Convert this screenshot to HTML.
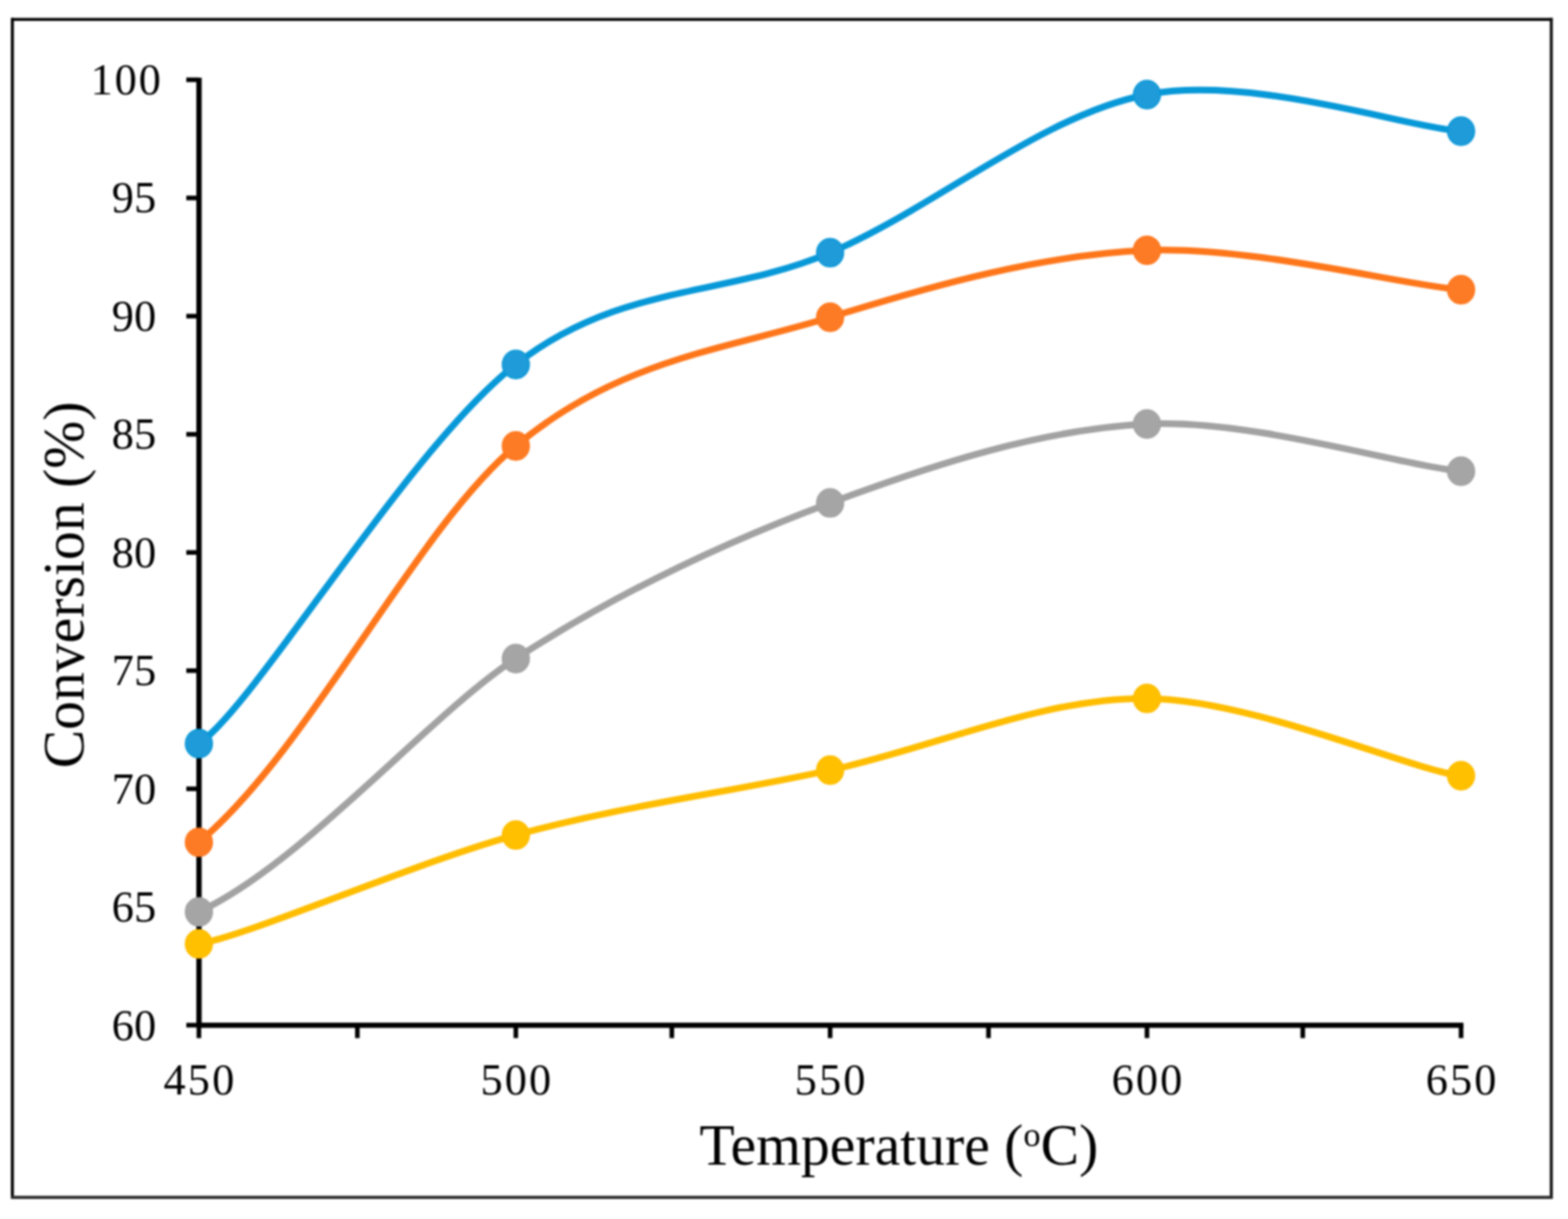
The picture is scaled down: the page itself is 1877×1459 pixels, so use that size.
<!DOCTYPE html><html><head><meta charset="utf-8"><title>Conversion vs Temperature</title><style>html,body{margin:0;padding:0;background:#fff;}svg{display:block;filter:blur(0.8px)}text{font-family:"Liberation Serif","Times New Roman",serif;fill:#000}</style></head><body>
<svg width="1877" height="1459" viewBox="0 0 1877 1459">
<rect x="0" y="0" width="1877" height="1459" fill="#fff"/>
<path d="M13.2,23.2 H1858.6" stroke="#000" stroke-width="3.6" fill="none"/>
<path d="M14.8,21.6 V1434.8" stroke="#000" stroke-width="3.6" fill="none"/>
<path d="M1857,21.6 V1434.8" stroke="#111" stroke-width="3.6" fill="none"/>
<path d="M13.2,1433.2 H1858.6" stroke="#2a2a2a" stroke-width="3.8" fill="none"/>
<line x1="238.2" y1="93" x2="238.2" y2="1230" stroke="#000" stroke-width="6.4"/>
<line x1="235.5" y1="1227.1" x2="1751.8" y2="1227.1" stroke="#000" stroke-width="6.4"/>
<line x1="223" y1="95.50" x2="238" y2="95.50" stroke="#000" stroke-width="5.5"/>
<line x1="223" y1="236.94" x2="238" y2="236.94" stroke="#000" stroke-width="5.5"/>
<line x1="223" y1="378.38" x2="238" y2="378.38" stroke="#000" stroke-width="5.5"/>
<line x1="223" y1="519.81" x2="238" y2="519.81" stroke="#000" stroke-width="5.5"/>
<line x1="223" y1="661.25" x2="238" y2="661.25" stroke="#000" stroke-width="5.5"/>
<line x1="223" y1="802.69" x2="238" y2="802.69" stroke="#000" stroke-width="5.5"/>
<line x1="223" y1="944.12" x2="238" y2="944.12" stroke="#000" stroke-width="5.5"/>
<line x1="223" y1="1085.56" x2="238" y2="1085.56" stroke="#000" stroke-width="5.5"/>
<line x1="223" y1="1227.00" x2="238" y2="1227.00" stroke="#000" stroke-width="5.5"/>
<line x1="238.10" y1="1227" x2="238.10" y2="1242.5" stroke="#000" stroke-width="5.5"/>
<line x1="427.80" y1="1227" x2="427.80" y2="1242.5" stroke="#000" stroke-width="5.5"/>
<line x1="617.50" y1="1227" x2="617.50" y2="1242.5" stroke="#000" stroke-width="5.5"/>
<line x1="804.20" y1="1227" x2="804.20" y2="1242.5" stroke="#000" stroke-width="5.5"/>
<line x1="993.70" y1="1227" x2="993.70" y2="1242.5" stroke="#000" stroke-width="5.5"/>
<line x1="1183.30" y1="1227" x2="1183.30" y2="1242.5" stroke="#000" stroke-width="5.5"/>
<line x1="1373.00" y1="1227" x2="1373.00" y2="1242.5" stroke="#000" stroke-width="5.5"/>
<line x1="1559.50" y1="1227" x2="1559.50" y2="1242.5" stroke="#000" stroke-width="5.5"/>
<line x1="1749.00" y1="1227" x2="1749.00" y2="1242.5" stroke="#000" stroke-width="5.5"/>
<text x="194.60" y="113.00" text-anchor="end" font-size="53.0" letter-spacing="2.2">100</text>
<text x="187.30" y="254.44" text-anchor="end" font-size="53.0" letter-spacing="0.3">95</text>
<text x="187.30" y="395.88" text-anchor="end" font-size="53.0" letter-spacing="0.3">90</text>
<text x="187.30" y="537.31" text-anchor="end" font-size="53.0" letter-spacing="0.3">85</text>
<text x="187.30" y="678.75" text-anchor="end" font-size="53.0" letter-spacing="0.3">80</text>
<text x="187.30" y="820.19" text-anchor="end" font-size="53.0" letter-spacing="0.3">75</text>
<text x="187.30" y="961.62" text-anchor="end" font-size="53.0" letter-spacing="0.3">70</text>
<text x="187.30" y="1103.06" text-anchor="end" font-size="53.0" letter-spacing="0.3">65</text>
<text x="187.30" y="1244.50" text-anchor="end" font-size="53.0" letter-spacing="0.3">60</text>
<text x="239.40" y="1309.5" text-anchor="middle" font-size="53.0" letter-spacing="2.6">450</text>
<text x="618.80" y="1309.5" text-anchor="middle" font-size="53.0" letter-spacing="2.6">500</text>
<text x="995.00" y="1309.5" text-anchor="middle" font-size="53.0" letter-spacing="2.6">550</text>
<text x="1374.30" y="1309.5" text-anchor="middle" font-size="53.0" letter-spacing="2.6">600</text>
<text x="1750.30" y="1309.5" text-anchor="middle" font-size="53.0" letter-spacing="2.6">650</text>
<text x="1076" y="1394" text-anchor="middle" font-size="69.0">Temperature (<tspan font-size="41.4" dy="-22">o</tspan><tspan dy="22">C)</tspan></text>
<text transform="translate(99.8,700) rotate(-90)" x="0" y="0" text-anchor="middle" font-size="69.0">Conversion (%)</text>
<path d="M238.10,890.00 C306.20,843.70 488.90,536.21 617.50,436.20 C743.43,338.27 867.78,356.23 993.70,302.40 C1119.62,248.57 1247.12,137.43 1373.00,113.20 C1498.88,88.97 1686.33,153.35 1749.00,157.00" fill="none" stroke="#0798d8" stroke-width="8.0" stroke-linecap="round" stroke-linejoin="round"/>
<path d="M238.10,1008.10 C371.00,896.60 497.89,633.16 617.50,533.70 C743.43,428.98 867.78,418.82 993.70,379.80 C1119.62,340.78 1247.12,305.12 1373.00,299.60 C1498.88,294.08 1686.33,342.77 1749.00,346.70" fill="none" stroke="#fe761a" stroke-width="8.0" stroke-linecap="round" stroke-linejoin="round"/>
<path d="M238.10,1091.40 C363.70,1032.50 515.72,854.14 617.50,788.20 C743.43,706.62 867.78,648.68 993.70,601.90 C1119.62,555.12 1247.12,513.82 1373.00,507.50 C1498.88,501.18 1686.33,559.29 1749.00,564.00" fill="none" stroke="#a2a2a2" stroke-width="8.0" stroke-linecap="round" stroke-linejoin="round"/>
<path d="M238.10,1129.70 C301.33,1118.84 491.57,1034.05 617.50,999.40 C743.43,964.75 867.78,949.05 993.70,921.80 C1119.62,894.55 1247.12,834.78 1373.00,835.90 C1498.88,837.02 1686.33,920.78 1749.00,928.50" fill="none" stroke="#ffbd00" stroke-width="8.0" stroke-linecap="round" stroke-linejoin="round"/>
<ellipse cx="238.10" cy="890.00" rx="16.10" ry="16.90" fill="#1f9bd9" stroke="#0798d8" stroke-width="1.6"/>
<ellipse cx="617.50" cy="436.20" rx="16.10" ry="16.90" fill="#1f9bd9" stroke="#0798d8" stroke-width="1.6"/>
<ellipse cx="993.70" cy="302.40" rx="16.10" ry="16.90" fill="#1f9bd9" stroke="#0798d8" stroke-width="1.6"/>
<ellipse cx="1373.00" cy="113.20" rx="16.10" ry="16.90" fill="#1f9bd9" stroke="#0798d8" stroke-width="1.6"/>
<ellipse cx="1749.00" cy="157.00" rx="16.10" ry="16.90" fill="#1f9bd9" stroke="#0798d8" stroke-width="1.6"/>
<ellipse cx="238.10" cy="1008.10" rx="16.10" ry="16.90" fill="#fe7b25" stroke="#fe761a" stroke-width="1.6"/>
<ellipse cx="617.50" cy="533.70" rx="16.10" ry="16.90" fill="#fe7b25" stroke="#fe761a" stroke-width="1.6"/>
<ellipse cx="993.70" cy="379.80" rx="16.10" ry="16.90" fill="#fe7b25" stroke="#fe761a" stroke-width="1.6"/>
<ellipse cx="1373.00" cy="299.60" rx="16.10" ry="16.90" fill="#fe7b25" stroke="#fe761a" stroke-width="1.6"/>
<ellipse cx="1749.00" cy="346.70" rx="16.10" ry="16.90" fill="#fe7b25" stroke="#fe761a" stroke-width="1.6"/>
<ellipse cx="238.10" cy="1091.40" rx="16.10" ry="16.90" fill="#a5a5a5" stroke="#a2a2a2" stroke-width="1.6"/>
<ellipse cx="617.50" cy="788.20" rx="16.10" ry="16.90" fill="#a5a5a5" stroke="#a2a2a2" stroke-width="1.6"/>
<ellipse cx="993.70" cy="601.90" rx="16.10" ry="16.90" fill="#a5a5a5" stroke="#a2a2a2" stroke-width="1.6"/>
<ellipse cx="1373.00" cy="507.50" rx="16.10" ry="16.90" fill="#a5a5a5" stroke="#a2a2a2" stroke-width="1.6"/>
<ellipse cx="1749.00" cy="564.00" rx="16.10" ry="16.90" fill="#a5a5a5" stroke="#a2a2a2" stroke-width="1.6"/>
<ellipse cx="238.10" cy="1129.70" rx="16.10" ry="16.90" fill="#ffc000" stroke="#ffbd00" stroke-width="1.6"/>
<ellipse cx="617.50" cy="999.40" rx="16.10" ry="16.90" fill="#ffc000" stroke="#ffbd00" stroke-width="1.6"/>
<ellipse cx="993.70" cy="921.80" rx="16.10" ry="16.90" fill="#ffc000" stroke="#ffbd00" stroke-width="1.6"/>
<ellipse cx="1373.00" cy="835.90" rx="16.10" ry="16.90" fill="#ffc000" stroke="#ffbd00" stroke-width="1.6"/>
<ellipse cx="1749.00" cy="928.50" rx="16.10" ry="16.90" fill="#ffc000" stroke="#ffbd00" stroke-width="1.6"/>
</svg></body></html>
